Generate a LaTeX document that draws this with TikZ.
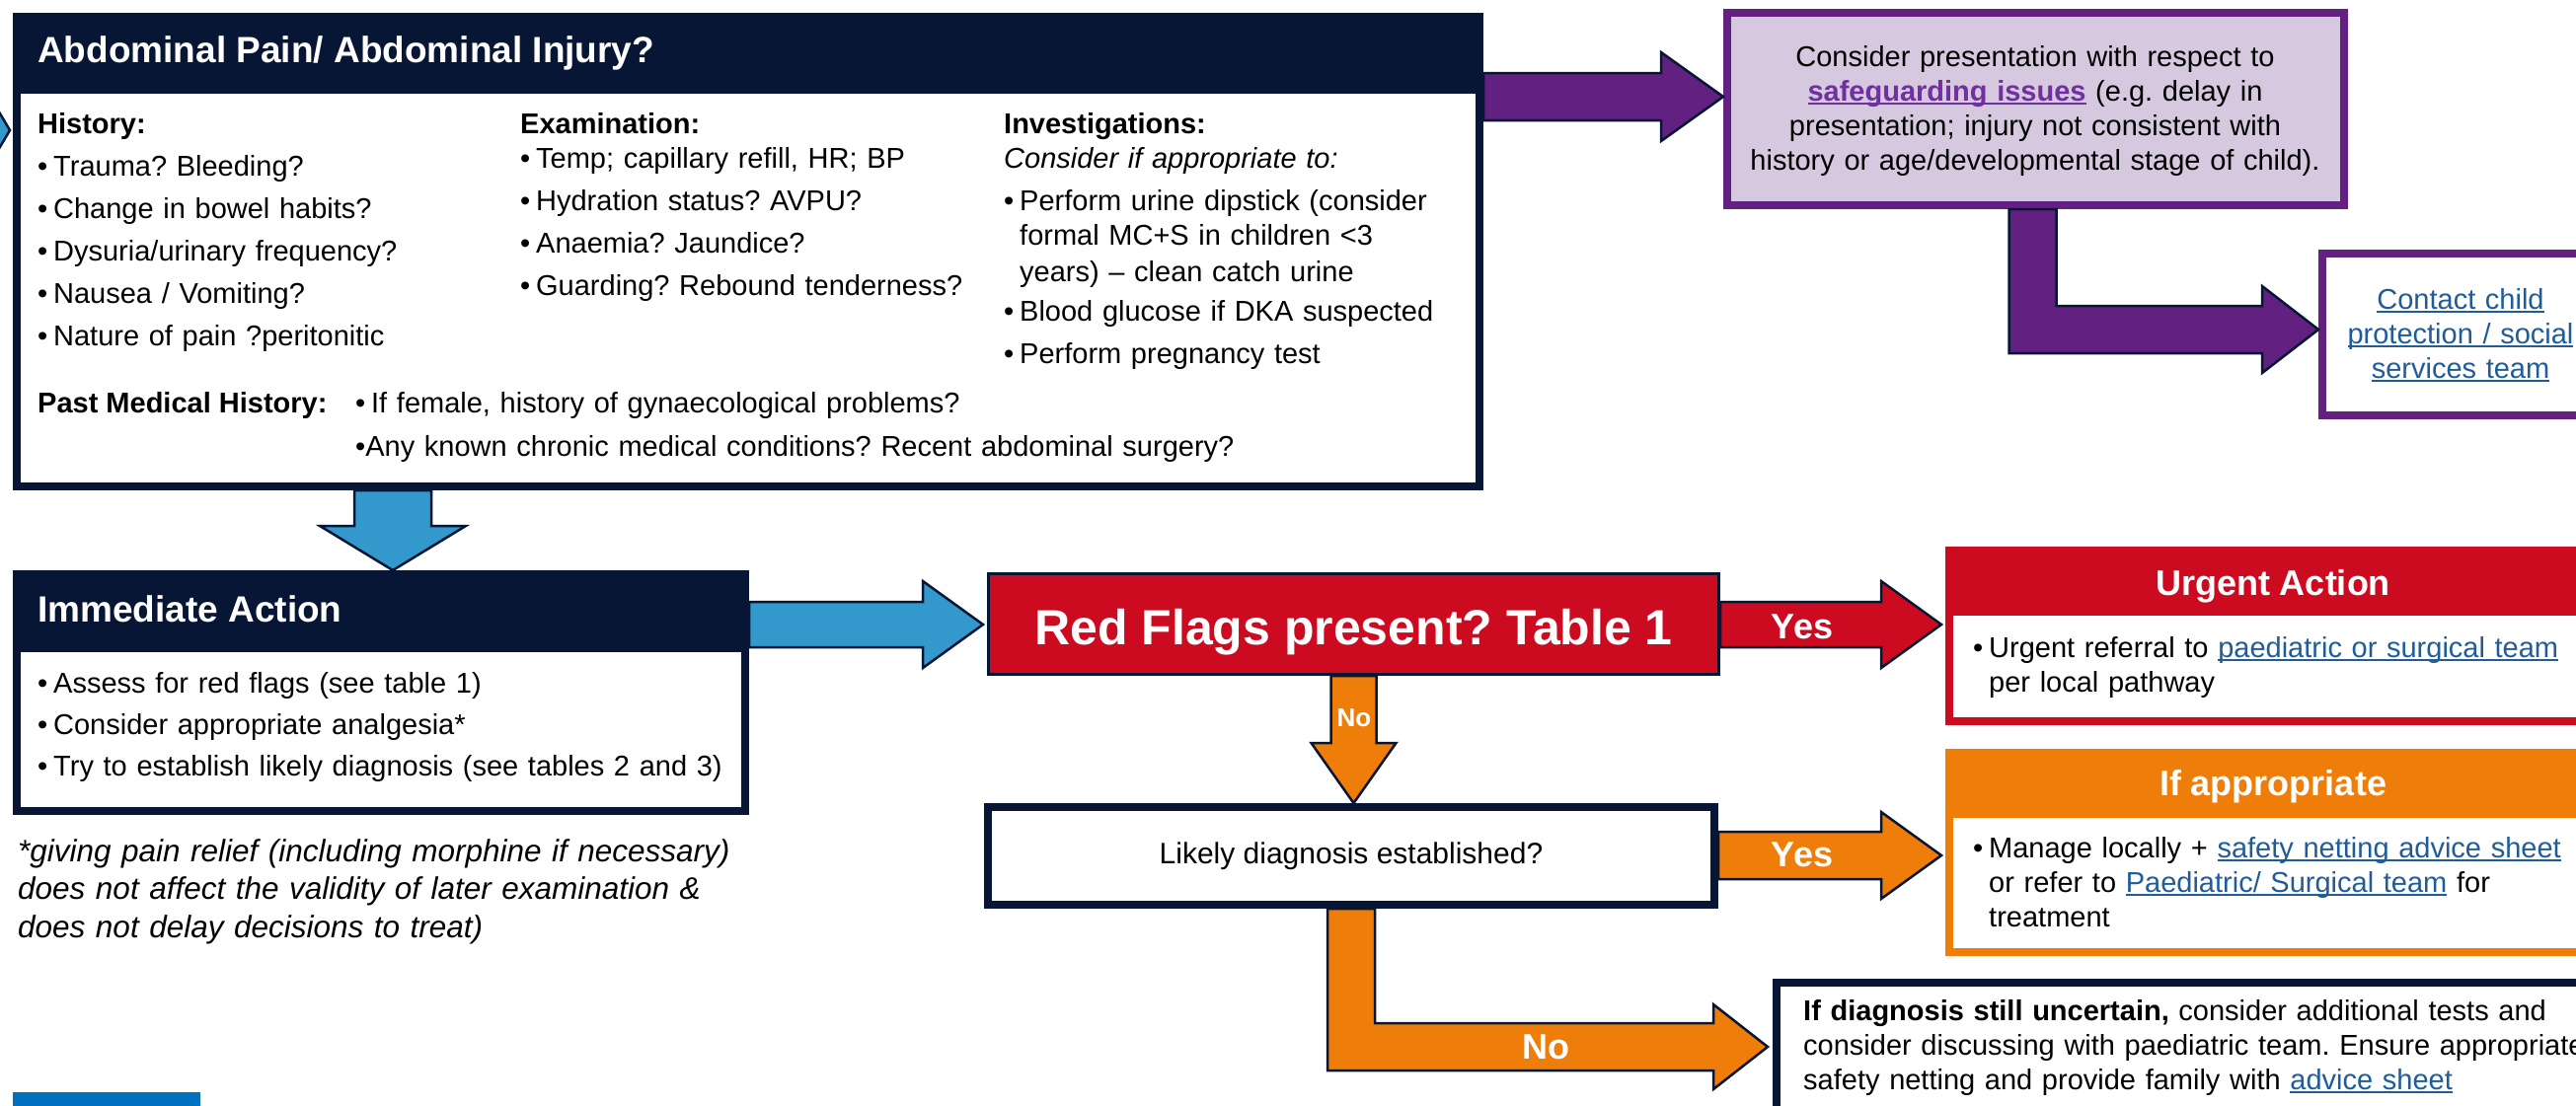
\documentclass[tikz,border=0pt]{standalone}
\usepackage{fontspec}
\setmainfont{Liberation Sans}
\usepackage[dvipsnames]{xcolor}
\usepackage{tikz}
\usetikzlibrary{calc}

\definecolor{navy}{HTML}{061634}
\definecolor{skyblue}{HTML}{3399CC}
\definecolor{purp}{HTML}{622181}
\definecolor{lilac}{HTML}{D5C8DF}
\definecolor{violetlink}{HTML}{7030A0}
\definecolor{flagred}{HTML}{CC0A20}
\definecolor{amber}{HTML}{EE7D0A}
\definecolor{linkblue}{HTML}{1F5C99}
\definecolor{barblue}{HTML}{0070C0}

\newlength{\lnkwd}
\newcommand{\lnk}[1]{\leavevmode\settowidth{\lnkwd}{#1}\rlap{\rule[-4pt]{\lnkwd}{2pt}}#1}
\newcommand{\bul}{\makebox[16pt][l]{•}}

\tikzset{
  panel/.style={draw, line width=8pt, fill=white, inner sep=0pt, anchor=north west},
  fat/.style={draw=navy, line width=2.5pt, line join=miter},
  body/.style={inner sep=0pt, anchor=base west, align=left, font=\fontsize{29}{35}\selectfont},
  head/.style={inner sep=0pt, anchor=base west, text=white, font=\bfseries\fontsize{37}{44}\selectfont},
  tag/.style={inner sep=0pt, anchor=base, text=white, font=\bfseries\fontsize{36}{43}\selectfont},
}

\begin{document}
\frenchspacing
\begin{tikzpicture}[x=1pt,y=-1pt]
\useasboundingbox (0,0) rectangle (2610,1120);
\clip (0,0) rectangle (2610,1120);
%
% boxes
\node[panel, draw=navy, minimum width=1482pt, minimum height=476pt] (abd) at (13,13) {};
\fill[navy] (abd.north west) rectangle ($(abd.north east)+(0,82)$);
\node[panel, draw=navy, minimum width=738pt, minimum height=240pt] (imm) at (13,578) {};
\fill[navy] (imm.north west) rectangle ($(imm.north east)+(0,83)$);
\node[panel, draw=navy, line width=3pt, fill=flagred, minimum width=740pt, minimum height=102pt,
  text=white, font=\bfseries\fontsize{50}{60}\selectfont, text height=41pt, text depth=0pt] (flag) at (1000,580)
  {Red Flags present? Table 1};
\node[panel, draw=navy, minimum width=736pt, minimum height=99pt, font=\fontsize{30}{36}\selectfont] (likely) at (997,814)
  {Likely diagnosis established?};
\node[panel, draw=purp, fill=lilac, minimum width=625pt, minimum height=195pt] (safe) at (1746,9) {};
\node[panel, draw=purp, minimum width=280pt, minimum height=164pt] (contact) at (2349,253) {};
\node[panel, draw=flagred, minimum width=656pt, minimum height=173pt] (urgent) at (1971,554) {};
\fill[flagred] (urgent.north west) rectangle ($(urgent.north east)+(0,70)$);
\node[panel, draw=amber, minimum width=656pt, minimum height=202pt] (ifapp) at (1971,759) {};
\fill[amber] (ifapp.north west) rectangle ($(ifapp.north east)+(0,70)$);
\node[panel, draw=navy, minimum width=836pt, minimum height=150pt] (unsure) at (1796,992) {};
\fill[barblue] (13,1107) rectangle (203,1130);
%
% block arrows
\coordinate (src) at (-100,132);
\coordinate (pz) at ($(abd.west |- 0,132)+(-3,0)$);
\draw[fat, fill=skyblue] ($(src)+(0,-23)$) -- ($(pz)+(-26,-23)$) -- ($(pz)+(-26,-44)$) -- (pz)
  -- ($(pz)+(-26,44)$) -- ($(pz)+(-26,23)$) -- ($(src)+(0,23)$) -- cycle;
%
\coordinate (pa) at (abd.east |- 0,98);
\coordinate (pb) at (safe.west |- pa);
\draw[fat, fill=purp] ($(pa)+(0,-24)$) -- ($(pb)+(-63,-24)$) -- ($(pb)+(-63,-45)$) -- (pb)
  -- ($(pb)+(-63,45)$) -- ($(pb)+(-63,24)$) -- ($(pa)+(0,24)$) -- cycle;
%
\coordinate (pc) at ($(safe.south)+(-3,0)$);
\coordinate (pd) at (contact.west |- 0,334);
\draw[fat, fill=purp] ($(pc)+(-24,0)$) -- ($(pc |- pd)+(-24,24)$) -- ($(pd)+(-57,24)$) -- ($(pd)+(-57,44)$) -- (pd)
  -- ($(pd)+(-57,-44)$) -- ($(pd)+(-57,-24)$) -- ($(pc |- pd)+(24,-24)$) -- ($(pc)+(24,0)$) -- cycle;
%
\coordinate (pf) at ($(imm.north)+(12,0)$);
\coordinate (pe) at (abd.south -| pf);
\draw[fat, fill=skyblue] ($(pe)+(-39,0)$) -- ($(pf)+(-39,-45)$) -- ($(pf)+(-74,-45)$) -- (pf)
  -- ($(pf)+(74,-45)$) -- ($(pf)+(39,-45)$) -- ($(pe)+(39,0)$) -- cycle;
%
\coordinate (pg) at (imm.east |- 0,633);
\coordinate (ph) at ($(flag.west |- pg)+(-4,0)$);
\draw[fat, fill=skyblue] ($(pg)+(0,-23)$) -- ($(ph)+(-61,-23)$) -- ($(ph)+(-61,-44)$) -- (ph)
  -- ($(ph)+(-61,44)$) -- ($(ph)+(-61,23)$) -- ($(pg)+(0,23)$) -- cycle;
%
\coordinate (pi) at (flag.east |- 0,633);
\coordinate (pj) at ($(urgent.west |- pi)+(-4,0)$);
\draw[fat, fill=flagred] ($(pi)+(0,-23)$) -- ($(pj)+(-61,-23)$) -- ($(pj)+(-61,-44)$) -- (pj)
  -- ($(pj)+(-61,44)$) -- ($(pj)+(-61,23)$) -- ($(pi)+(0,23)$) -- cycle;
%
\coordinate (pk) at (flag.south);
\coordinate (pl) at (likely.north -| pk);
\draw[fat, fill=amber] ($(pk)+(-23,0)$) -- ($(pl)+(-23,-61)$) -- ($(pl)+(-43,-61)$) -- (pl)
  -- ($(pl)+(43,-61)$) -- ($(pl)+(23,-61)$) -- ($(pk)+(23,0)$) -- cycle;
%
\coordinate (pm) at (likely.east |- 0,867);
\coordinate (pn) at ($(ifapp.west |- pm)+(-4,0)$);
\draw[fat, fill=amber] ($(pm)+(0,-24)$) -- ($(pn)+(-61,-24)$) -- ($(pn)+(-61,-44)$) -- (pn)
  -- ($(pn)+(-61,44)$) -- ($(pn)+(-61,24)$) -- ($(pm)+(0,24)$) -- cycle;
%
\coordinate (po) at (likely.south);
\coordinate (pq) at ($(unsure.west |- 0,1061)+(-5,0)$);
\draw[fat, fill=amber] ($(po)+(-24,0)$) -- ($(po |- pq)+(-24,24)$) -- ($(pq)+(-55,24)$) -- ($(pq)+(-55,43)$) -- (pq)
  -- ($(pq)+(-55,-43)$) -- ($(pq)+(-55,-24)$) -- ($(po |- pq)+(24,-24)$) -- ($(po)+(24,0)$) -- cycle;
%
% texts of the top box
\node[head] (abdt) at (38,63) {Abdominal Pain/ Abdominal Injury?};
\node[body, text width=470pt] (hist) at (38,135) {\textbf{History:}\\[8pt]
  \bul Trauma? Bleeding?\\[8pt] \bul Change in bowel habits?\\[8pt] \bul Dysuria/urinary frequency?\\[8pt]
  \bul Nausea / Vomiting?\\[8pt] \bul Nature of pain ?peritonitic};
\node[body, text width=470pt] (exam) at (527,135) {\textbf{Examination:}\\
  \bul Temp; capillary refill, HR; BP\\[8pt] \bul Hydration status? AVPU?\\[8pt]
  \bul Anaemia? Jaundice?\\[8pt] \bul Guarding? Rebound tenderness?};
\node[body, text width=470pt] (inv) at (1017,135) {\textbf{Investigations:}\\ \textit{Consider if appropriate to:}\\[8pt]
  \bul Perform urine dipstick (consider\\ \hspace*{16pt}formal MC+S in children <3\\[2pt]
  \hspace*{16pt}years) -- clean catch urine\\[5pt] \bul Blood glucose if DKA suspected\\[8pt]
  \bul Perform pregnancy test};
\node[body] (pmh) at (38,418) {\textbf{Past Medical History:}};
\node[body, text width=1120pt] (pmhl) at (360,418) {\bul If female, history of gynaecological problems?\\[9pt]
  •Any known chronic medical conditions? Recent abdominal surgery?};
%
% texts of immediate action
\node[head] (immt) at (38,630) {Immediate Action};
\node[body, text width=720pt] (imml) at (38,702) {\bul Assess for red flags (see table 1)\\[7pt]
  \bul Consider appropriate analgesia*\\[7pt] \bul Try to establish likely diagnosis (see tables 2 and 3)};
\node[body, text width=850pt, font=\itshape\fontsize{31.5}{38.5}\selectfont] (note) at (18,873)
  {*giving pain relief (including morphine if necessary)\\ does not affect the validity of later examination \&\\
  does not delay decisions to treat)};
%
% texts of the right hand side
\node[body, anchor=base, align=center, text width=630pt] (safet) at (2062,67) {Consider presentation with respect to\\
  {\bfseries\color{violetlink}\lnk{safeguarding issues}} (e.g. delay in\\ presentation; injury not consistent with\\
  history or age/developmental stage of child).};
\node[body, anchor=base, align=center, text width=300pt, text=linkblue] (contactt) at (2493,313)
  {\lnk{Contact child}\\ \lnk{protection / social}\\ \lnk{services team}};
\node[tag] (yes1) at (1826,647) {Yes};
\node[tag] (yes2) at (1826,878) {Yes};
\node[tag, font=\bfseries\fontsize{26}{31}\selectfont] (no1) at (1372,736) {No};
\node[tag] (no2) at (1566,1073) {No};
\node[tag] (urgentt) at (2303,603) {Urgent Action};
\node[body, text width=640pt] (urgentl) at (1999,666) {\bul Urgent referral to {\color{linkblue}\lnk{paediatric or surgical team}}\\
  \hspace*{16pt}per local pathway};
\node[tag] (ifappt) at (2303,806) {If appropriate};
\node[body, text width=640pt] (ifappl) at (1999,869) {\bul Manage locally + {\color{linkblue}\lnk{safety netting advice sheet}}\\
  \hspace*{16pt}or refer to {\color{linkblue}\lnk{Paediatric/ Surgical team}} for\\ \hspace*{16pt}treatment};
\node[body, text width=1000pt] (unsuret) at (1827,1034) {\textbf{If diagnosis still uncertain,} consider additional tests and\\
  consider discussing with paediatric team. Ensure appropriate\\ safety netting and provide family with {\color{linkblue}\lnk{advice sheet}}};
\end{tikzpicture}
\end{document}
